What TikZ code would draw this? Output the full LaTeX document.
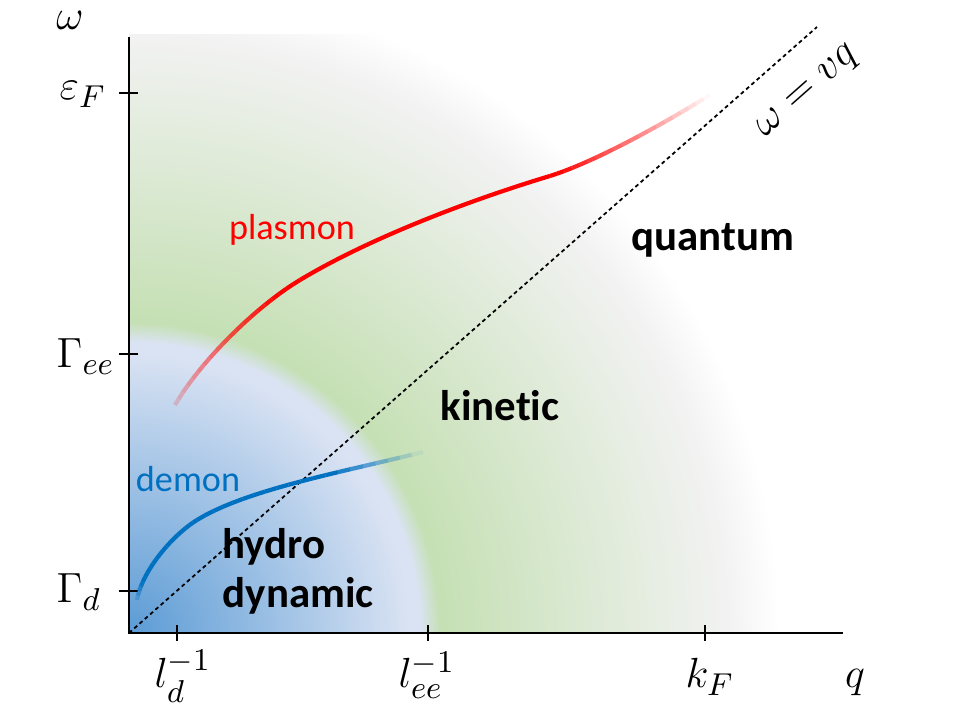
\documentclass[tikz,border=0pt]{standalone}
\usepackage{amsmath}
\usepackage{fontspec}
\setmainfont{Carlito}[Ligatures=NoCommon]
\usepackage{tikz}

\definecolor{hydroblue}{HTML}{5B9BD5}
\definecolor{hydrolight}{HTML}{DAE3F3}
\definecolor{kingreen}{HTML}{C5E0B4}
\definecolor{quantgray}{HTML}{F2F2F2}
\definecolor{plasmonred}{HTML}{FF0000}
\definecolor{demonblue}{HTML}{0070C0}

\pgfdeclareradialshading{regimes}{\pgfpointorigin}{color(0bp)=(hydroblue); color(10.8bp)=(hydrolight); color(11.2bp)=(hydrolight); color(11.95bp)=(kingreen); color(23bp)=(quantgray); color(25bp)=(white); color(50bp)=(white)}

\begin{document}
\begin{tikzpicture}[axis/.style={line width=0.6pt},
  lbl/.style={font=\fontsize{13}{15}\selectfont,inner sep=0pt},
  regime/.style={font=\fontsize{12.2}{14}\selectfont\bfseries,align=left,inner sep=0pt},
  mode/.style={font=\fontsize{10.3}{12}\selectfont,inner sep=0pt},
  seg/.style={line width=1.2pt,line cap=butt}]
  \useasboundingbox (-1.29,-0.87) rectangle (8.31,6.33);
  % regimes
  \begin{scope}
    \clip (0,0) rectangle (7.14,5.98);
    \shade[shading=regimes] (0,0) circle (6.5);
  \end{scope}

  % axes and ticks
  \coordinate (O) at (0,0);
  \coordinate (wtop) at (0,5.96);
  \coordinate (qend) at (7.14,0);
  \draw[axis] (wtop) -- (O) -- (qend);
  \foreach \y/\n in {5.40/eF,2.79/Gee,0.42/Gd}
    \draw[axis] (-0.10,\y) coordinate (\n) -- (0.09,\y);
  \foreach \x/\n in {0.48/ld,2.99/lee,5.76/kF}
    \draw[axis] (\x,-0.08) coordinate (\n) -- (\x,0.08);

  \node[lbl,anchor=base] (w) at (-0.59,6.03) {$\omega$};
  \node[lbl,anchor=base west] (eFlbl) at (-0.70,5.33) {$\varepsilon_F$};
  \node[lbl,anchor=base west] (Geelbl) at (-0.73,2.65) {$\Gamma_{ee}$};
  \node[lbl,anchor=base west] (Gdlbl) at (-0.73,0.30) {$\Gamma_d$};
  \node[lbl,anchor=base] (ldlbl) at (0.54,-0.55) {$l_d^{-1}$};
  \node[lbl,anchor=base] (leelbl) at (2.98,-0.55) {$l_{ee}^{-1}$};
  \node[lbl,anchor=base] (kFlbl) at (5.81,-0.55) {$k_F$};
  \node[lbl,anchor=base] (q) at (7.26,-0.55) {$q$};

  % light line
  \coordinate (vtop) at (6.88,6.06);
  \draw[line width=0.5pt,dash pattern=on 1.1pt off 0.9pt] (O) -- (vtop);
  \node[lbl,font=\fontsize{12}{14}\selectfont,rotate=41.4] (vq) at (6.80,5.40) {$\omega = vq$};

  % plasmon, sampled so that its ends can fade
  \coordinate (r0) at (0.46,2.28);
  \coordinate (r1) at (1.71,3.53);
  \coordinate (r2) at (4.21,4.57);
  \coordinate (r3) at (5.81,5.38);
  \path (r0) .. controls (0.71,2.71) and (1.26,3.26) .. (r1)
    foreach \k [evaluate=\k as \p using \k/20] in {0,...,20} {coordinate[pos=\p] (ra\k)};
  \path (r2) .. controls (4.66,4.71) and (5.36,5.10) .. (r3)
    foreach \k [evaluate=\k as \p using \k/20] in {0,...,20} {coordinate[pos=\p] (rc\k)};
  \foreach \k [evaluate=\k as \l using int(\k+1),
               evaluate=\k as \op using {min(1,0.15+0.85*(\k+0.5)/17)}] in {0,...,19}
    \draw[seg,plasmonred,draw opacity=\op] (ra\k) -- (ra\l);
  \draw[line width=1.2pt,plasmonred] (r1) .. controls (2.51,4.01) and (3.61,4.39) .. (r2);
  \foreach \k [evaluate=\k as \l using int(\k+1),
               evaluate=\k as \op using {min(1,(19.5-\k)/19)}] in {0,...,19}
    \draw[seg,plasmonred,draw opacity=\op] (rc\k) -- (rc\l);

  % demon
  \coordinate (b0) at (0.08,0.33);
  \coordinate (b1) at (0.68,1.13);
  \coordinate (b2) at (2.94,1.81);
  \path (b0) .. controls (0.13,0.62) and (0.43,0.975) .. (b1)
    foreach \k [evaluate=\k as \p using \k/20] in {0,...,20} {coordinate[pos=\p] (ba\k)};
  \path (b1) .. controls (1.18,1.44) and (2.19,1.62) .. (b2)
    foreach \k [evaluate=\k as \p using \k/20] in {0,...,20} {coordinate[pos=\p] (bb\k)};
  \foreach \k [evaluate=\k as \l using int(\k+1),
               evaluate=\k as \op using {min(1,0.2+0.8*(\k+0.5)/4)}] in {0,...,19}
    \draw[seg,demonblue,draw opacity=\op] (ba\k) -- (ba\l);
  \foreach \k [evaluate=\k as \l using int(\k+1),
               evaluate=\k as \op using {min(1,(19.5-\k)/7.6)}] in {0,...,19}
    \draw[seg,demonblue,draw opacity=\op] (bb\k) -- (bb\l);

  \node[mode,text=plasmonred] (plasmon) at (1.63,4.03) {plasmon};
  \node[mode,text=demonblue] (demon) at (0.59,1.54) {demon};

  % regime names
  \node[regime,anchor=west] (hydro) at (0.93,0.62) {hydro\\dynamic};
  \node[regime] (kinetic) at (3.71,2.27) {kinetic};
  \node[regime] (quantum) at (5.84,3.93) {quantum};
\end{tikzpicture}
\end{document}
